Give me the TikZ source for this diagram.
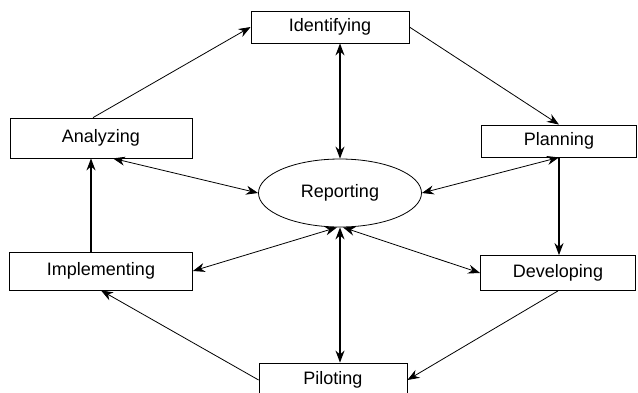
\documentclass[tikz,border=0pt]{standalone}
\usepackage{fontspec}
\setmainfont{Liberation Sans}
\usetikzlibrary{arrows.meta,shapes.geometric}

\begin{document}
\begin{tikzpicture}[x=1pt, y=-1pt,
	stage/.style={draw, line width=0.8pt, font=\fontsize{18}{20}\selectfont},
	link/.style={-{Stealth[length=12pt,width=9pt]}, line width=0.8pt},
	twoway/.style={{Stealth[length=12pt,width=9pt]}-{Stealth[length=12pt,width=9pt]}, line width=0.8pt},
	heavy/.style={line width=1.6pt}]
	\useasboundingbox (0,0) rectangle (638,392);
	\node[stage, minimum width=158pt, minimum height=32pt] (identifying) at (330,27) {Identifying};
	\node[stage, minimum width=182pt, minimum height=40pt] (analyzing) at (101,138) {Analyzing};
	\node[stage, minimum width=155pt, minimum height=32pt] (planning) at (559,141) {Planning};
	\node[stage, ellipse, minimum width=163pt, minimum height=68pt] (reporting) at (340,193) {Reporting};
	\node[stage, minimum width=183pt, minimum height=38pt] (implementing) at (101,271) {Implementing};
	\node[stage, minimum width=155pt, minimum height=35pt] (developing) at (558,273) {Developing};
	\node[stage, minimum width=148pt, minimum height=34pt] (piloting) at (333,380) {Piloting};
	\draw[link] ([xshift=-8pt]analyzing.north) -- (identifying.west);
	\draw[link] (identifying.east) -- (planning.north);
	\draw[link, heavy] (planning.south) -- (planning.south |- developing.north);
	\draw[link] (developing.south) -- (piloting.east);
	\draw[link] (piloting.west) -- (implementing.south);
	\draw[link, heavy] ([xshift=-10pt]implementing.north) -- ([xshift=-10pt]analyzing.south);
	\draw[twoway, heavy] (reporting.north) -- (reporting.north |- identifying.south);
	\draw[twoway] (reporting.west) -- ([xshift=12pt]analyzing.south);
	\draw[twoway] (reporting.east) -- (planning.south);
	\draw[twoway] ([xshift=-3pt]reporting.south) -- (implementing.east);
	\draw[twoway] ([xshift=3pt]reporting.south) -- (developing.west);
	\draw[twoway, heavy] (reporting.south) -- (reporting.south |- piloting.north);
\end{tikzpicture}
\end{document}
